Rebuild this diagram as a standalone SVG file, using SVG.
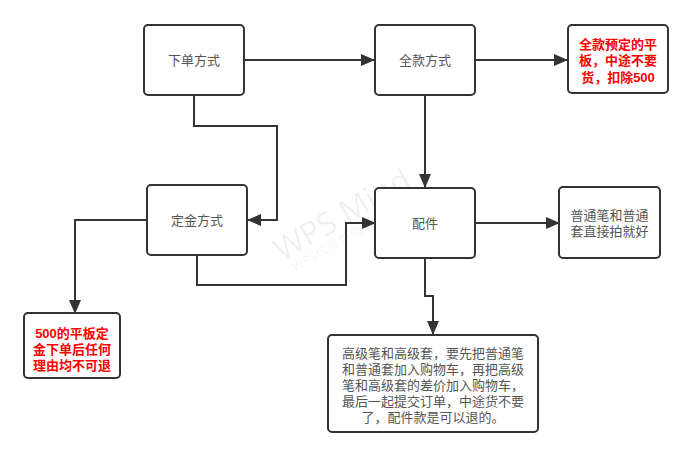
<svg xmlns="http://www.w3.org/2000/svg" width="693" height="458" viewBox="0 0 693 458">
<style>
.box{fill:#fff;stroke:#333;stroke-width:2}
.t{font-family:"Liberation Sans","Noto Sans CJK SC",sans-serif;font-size:13px;fill:#555;text-anchor:middle}
.r{font-family:"Liberation Sans","Noto Sans CJK SC",sans-serif;font-size:13px;font-weight:bold;fill:#ff0000;text-anchor:middle}
.c{fill:none;stroke:#333;stroke-width:2}
.wm{font-family:"Noto Sans","Noto Sans CJK SC",sans-serif;fill:#000;fill-opacity:0.06}
</style>
<defs>
<marker id="a" markerUnits="userSpaceOnUse" markerWidth="14" markerHeight="12" refX="13" refY="6" orient="auto">
<path d="M0,0 L14,6 L0,12 Z" fill="#333"/>
</marker>
</defs>
<rect width="693" height="458" fill="#fff"/>
<g id="watermark">
<text class="wm" x="0" y="0" font-size="32" transform="translate(282,262) rotate(-30)">WPS Mind</text>
<text class="wm" x="0" y="0" font-size="13" transform="translate(295,272) rotate(-30)">WPS仅提供绘图能力</text>
</g>
<g id="connectors">
<path class="c" d="M244,60 H374" marker-end="url(#a)"/>
<path class="c" d="M475,60 H567" marker-end="url(#a)"/>
<path class="c" d="M194,95 V126 H277 V220 H248" marker-end="url(#a)"/>
<path class="c" d="M425,95 V187" marker-end="url(#a)"/>
<path class="c" d="M197,255 V285 H346 V223 H375" marker-end="url(#a)"/>
<path class="c" d="M475,223 H559" marker-end="url(#a)"/>
<path class="c" d="M425,258 V296 H433 V334" marker-end="url(#a)"/>
<path class="c" d="M147,220 H75 V313" marker-end="url(#a)"/>
</g>
<g id="n1"><rect class="box" x="144" y="25" width="100" height="70" rx="4"/><text class="t" x="194" y="65">下单方式</text></g>
<g id="n2"><rect class="box" x="375" y="25" width="100" height="70" rx="4"/><text class="t" x="425" y="65">全款方式</text></g>
<g id="n3"><rect class="box" x="568" y="25" width="100" height="68" rx="4"/>
<text class="r"><tspan x="618" y="49">全款预定的平</tspan><tspan x="618" y="65">板，中途不要</tspan><tspan x="618" y="82">货，扣除500</tspan></text></g>
<g id="n4"><rect class="box" x="147" y="185" width="100" height="70" rx="4"/><text class="t" x="197" y="225">定金方式</text></g>
<g id="n5"><rect class="box" x="375" y="188" width="100" height="70" rx="4"/><text class="t" x="425" y="228">配件</text></g>
<g id="n6"><rect class="box" x="559" y="187" width="101" height="71" rx="4"/>
<text class="t"><tspan x="609.5" y="220">普通笔和普通</tspan><tspan x="609.5" y="236">套直接拍就好</tspan></text></g>
<g id="n7"><rect class="box" x="24" y="313" width="96" height="65" rx="4"/>
<text class="r"><tspan x="72" y="338">500的平板定</tspan><tspan x="72" y="354">金下单后任何</tspan><tspan x="72" y="370">理由均不可退</tspan></text></g>
<g id="n8"><rect class="box" x="328" y="335" width="210" height="97" rx="4"/>
<text class="t"><tspan x="433" y="358">高级笔和高级套，要先把普通笔</tspan><tspan x="433" y="374">和普通套加入购物车，再把高级</tspan><tspan x="433" y="390">笔和高级套的差价加入购物车，</tspan><tspan x="433" y="406">最后一起提交订单，中途货不要</tspan><tspan x="433" y="422">了，配件款是可以退的。</tspan></text></g>
</svg>
